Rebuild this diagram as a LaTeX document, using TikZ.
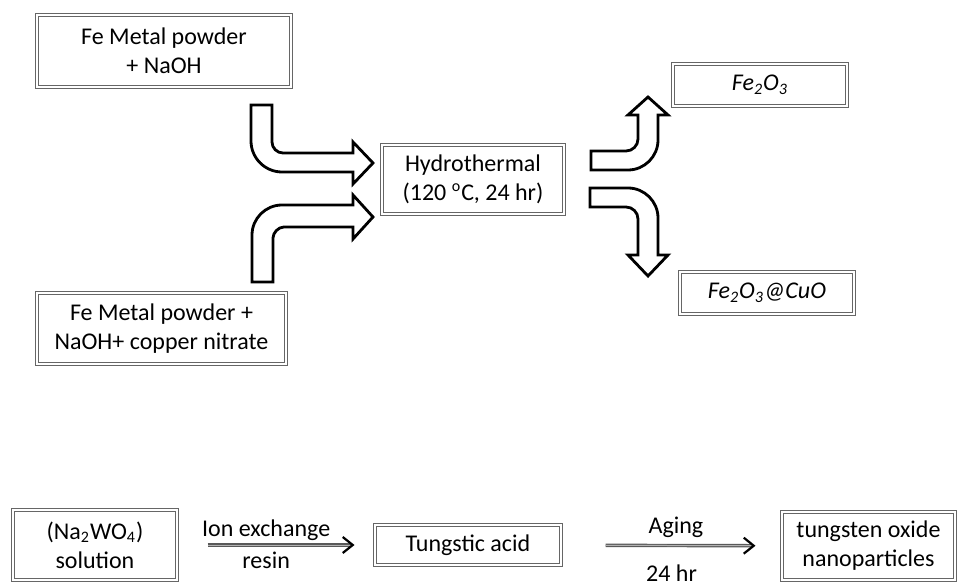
\documentclass[tikz,border=0pt]{standalone}
\usepackage{fontspec}
\setmainfont{Carlito}
\usetikzlibrary{arrows.meta, positioning, calc}
\tikzset{
  syn box/.style={
    rectangle, draw=black!60, double=white, double distance=0.9pt,
    line width=0.5pt, align=center, inner sep=2pt,
    font=\fontsize{12}{14.5}\selectfont
  },
  syn bend/.style={
    draw=black, fill=white, line width=1.4pt
  },
  syn arrow/.style={
    -{Straight Barb[length=5pt,width=8pt,line width=1.1pt,color=black]}, draw=black!65,
    line width=0.6pt, double=black!30, double distance=0.5pt
  },
  syn label/.style={
    font=\fontsize{12}{14}\selectfont, inner sep=1pt
  }
}
\begin{document}
\begin{tikzpicture}[x=0.5pt, y=-0.5pt]
  \useasboundingbox (0,0) rectangle (958,588);

  % hydrothermal route
  \node (fenaoh) [syn box, minimum width=127pt, minimum height=36pt] at (164,51) {Fe Metal powder\\+ NaOH};
  \node (fecu) [syn box, minimum width=124.5pt, minimum height=35.5pt] at (161.5,328.5) {Fe Metal powder +\\NaOH+ copper nitrate};
  \node (hydro) [syn box, minimum width=91pt, minimum height=34.5pt] at (473,179.5) {Hydrothermal\\(120 \textsuperscript{o}C, 24 hr)};
  \node (feo) [syn box, minimum width=87pt, minimum height=21pt] at (760,85) {\textit{Fe\textsubscript{2}O\textsubscript{3}}};
  \node (fecuo) [syn box, minimum width=87pt, minimum height=21pt] at (767,293) {\textit{Fe\textsubscript{2}O\textsubscript{3}@CuO}};

  % bent block arrows
  \draw [syn bend] (251,105) -- (272,105) -- (272,142) .. controls (272,148) and (277,153) .. (283,153)
    -- (353,153) -- (353,142) -- (373,163) -- (353,184) -- (353,172) -- (282,172)
    .. controls (265,172) and (251,158) .. (251,141) -- cycle;
  \draw [syn bend] (252,282) -- (252,235) .. controls (252,218.5) and (265.5,205) .. (282,205) -- (353,205)
    -- (353,195) -- (373,217) -- (353,239) -- (353,227) -- (284,227)
    .. controls (278,227) and (273,233) .. (273,238) -- (273,282) -- cycle;
  \draw [syn bend] (591,151) -- (626,151) .. controls (632.6,151) and (638,145.6) .. (638,139) -- (638,115)
    -- (628,115) -- (648,97) -- (668,115) -- (658,115) -- (658,140)
    .. controls (658,156.5) and (644.5,170) .. (628,170) -- (591,170) -- cycle;
  \draw [syn bend] (590,188) -- (628,188) .. controls (644.5,188) and (658,201.5) .. (658,218) -- (658,255)
    -- (668,255) -- (648,276) -- (628,255) -- (638,255) -- (638,219)
    .. controls (638,212.4) and (632.6,207) .. (626,207) -- (590,207) -- cycle;

  % ion exchange route
  \node (nawo) [syn box, minimum width=82pt, minimum height=35pt] at (95,545) {(Na\textsubscript{2}WO\textsubscript{4})\\solution};
  \node (tung) [syn box, minimum width=93pt, minimum height=20pt] at (468,545) {Tungstic acid};
  \node (wox) [syn box, minimum width=86.5pt, minimum height=34pt] at (868.5,546) {tungsten oxide\\nanoparticles};

  \draw [syn arrow, shorten <=15pt, shorten >=10pt] (nawo) -- (tung)
    node [syn label, pos=0.45, above=1pt] {Ion exchange}
    node [syn label, pos=0.45, below=2pt] {resin};
  \draw [syn arrow, shorten <=22pt, shorten >=13pt] (tung) -- (wox)
    node [syn label, pos=0.52, above=2.5pt] {Aging}
    node [syn label, pos=0.5, below=8.5pt] {24 hr};
\end{tikzpicture}
\end{document}
